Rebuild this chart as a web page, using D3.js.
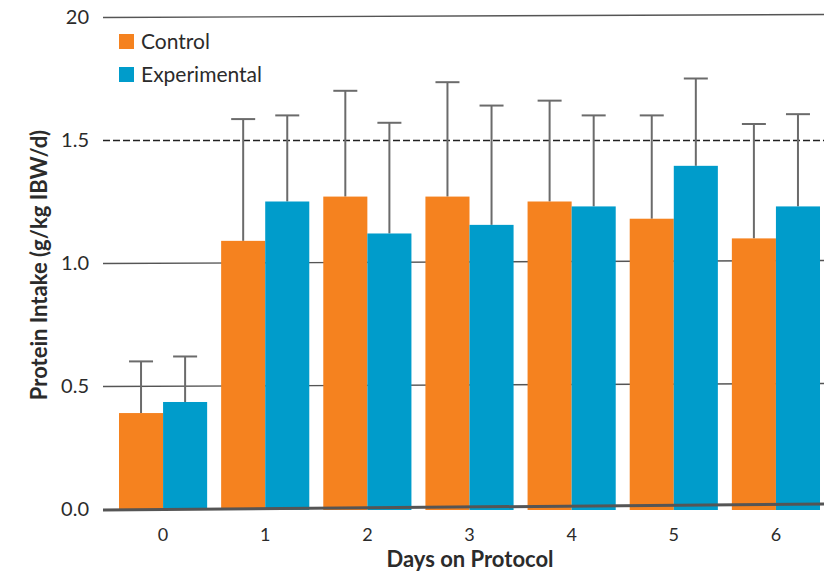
<!DOCTYPE html>
<html>
<head>
<meta charset="utf-8">
<script src="https://cdn.jsdelivr.net/npm/d3@7"></script>
<style>
  body { margin: 0; background: #fff; }
  text { font-family: Lato, "Open Sans", sans-serif; fill: #2b2b2b; }
</style>
</head>
<body>
<svg width="836" height="573"></svg>
<script>
// data
const days = ["0", "1", "2", "3", "4", "5", "6"];
const series = ["Control", "Experimental"];
const controlMean = [0.39, 1.09, 1.27, 1.27, 1.25, 1.18, 1.10];
const controlErr = [0.21, 0.495, 0.43, 0.465, 0.41, 0.42, 0.465];
const expMean = [0.435, 1.25, 1.12, 1.155, 1.23, 1.395, 1.23];
const expErr = [0.185, 0.35, 0.45, 0.485, 0.37, 0.355, 0.375];
const yTicks = [0, 0.5, 1.0, 1.5, 2.0];
const yTickLabels = ["0.0", "0.5", "1.0", "1.5", "20"];

const colors = {Control: "#f5821f", Experimental: "#009ccb"};

const svg = d3.select("svg");

const lineLeft = 103, lineRight = 824;

const y = d3.scaleLinear().domain([0, 2]).range([509, 17]);

const x = d3.scaleBand()
    .domain(days)
    .range([112, 827])
    .paddingInner(0.137)
    .paddingOuter(0.0685);

const xSub = d3.scaleBand()
    .domain(series)
    .range([0, x.bandwidth()]);

// rows for bars
const rows = [];
days.forEach((d, i) => {
    rows.push({day: d, s: "Control", v: controlMean[i], e: controlErr[i]});
    rows.push({day: d, s: "Experimental", v: expMean[i], e: expErr[i]});
});

// grid lines (the scan is a little tilted, so solid lines slope slightly)
const tilt = v => v === 1.5 ? 0 : (v === 0 ? 6 : 3);
svg.append("g").selectAll("line")
    .data(yTicks.filter(v => v !== 0))
    .enter().append("line")
        .attr("x1", lineLeft)
        .attr("x2", lineRight)
        .attr("y1", d => y(d) + 0.5)
        .attr("y2", d => y(d) + 0.5 - tilt(d))
        .attr("stroke", d => d === 1.5 ? "#222" : "#555")
        .attr("stroke-width", d => d === 1.5 ? 1.3 : 1.4)
        .attr("stroke-dasharray", d => d === 1.5 ? "7,3" : null);

// error bars (upper only)
const err = svg.append("g").selectAll("g")
    .data(rows)
    .enter().append("g")
        .attr("transform", d => `translate(${x(d.day) + xSub(d.s) + xSub.bandwidth() / 2},0)`);

err.append("line")
    .attr("y1", d => y(d.v))
    .attr("y2", d => y(d.v + d.e))
    .attr("stroke", "#6b6b6b")
    .attr("stroke-width", 2);

err.append("line")
    .attr("x1", -12)
    .attr("x2", 12)
    .attr("y1", d => y(d.v + d.e))
    .attr("y2", d => y(d.v + d.e))
    .attr("stroke", "#6b6b6b")
    .attr("stroke-width", 2);

// bars
svg.append("g").selectAll("rect")
    .data(rows)
    .enter().append("rect")
        .attr("x", d => x(d.day) + xSub(d.s))
        .attr("y", d => y(d.v))
        .attr("width", xSub.bandwidth())
        .attr("height", d => y(0) - y(d.v) + 1)
        .attr("fill", d => colors[d.s]);

// baseline
svg.append("line")
    .attr("x1", lineLeft)
    .attr("x2", lineRight)
    .attr("y1", y(0) + 1)
    .attr("y2", y(0) + 1 - tilt(0))
    .attr("stroke", "#555")
    .attr("stroke-width", 3);

// y tick labels
svg.append("g").selectAll("text")
    .data(yTicks)
    .enter().append("text")
        .attr("x", 89)
        .attr("y", d => y(d))
        .attr("dy", "0.36em")
        .attr("text-anchor", "end")
        .style("font-size", "20px")
        .text((d, i) => yTickLabels[i]);

// x tick labels
svg.append("g").selectAll("text")
    .data(days)
    .enter().append("text")
        .attr("x", d => x(d) + x.bandwidth() / 2)
        .attr("y", 541)
        .attr("text-anchor", "middle")
        .style("font-size", "18px")
        .text(d => d);

// axis titles
svg.append("text")
    .attr("x", 470)
    .attr("y", 567)
    .attr("text-anchor", "middle")
    .style("font-size", "22px")
    .style("font-weight", "bold")
    .text("Days on Protocol");

svg.append("text")
    .attr("transform", "translate(47,265) rotate(-90)")
    .attr("text-anchor", "middle")
    .style("font-size", "22px")
    .style("font-weight", "bold")
    .text("Protein Intake (g/kg IBW/d)");

// legend
const legend = svg.append("g").selectAll("g")
    .data(series)
    .enter().append("g")
        .attr("transform", (d, i) => `translate(119,${34 + i * 33})`);

legend.append("rect")
    .attr("width", 15)
    .attr("height", 15)
    .attr("fill", d => colors[d]);

legend.append("text")
    .attr("x", 22)
    .attr("y", 15)
    .style("font-size", "21px")
    .text(d => d);
</script>
</body>
</html>
